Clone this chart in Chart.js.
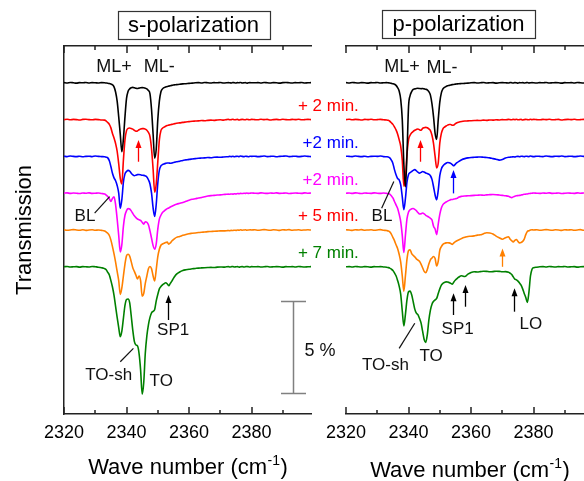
<!DOCTYPE html>
<html>
<head>
<meta charset="utf-8">
<script src="https://cdn.jsdelivr.net/npm/chart.js@4.4.0/dist/chart.umd.min.js"></script>
<style>
  html, body { margin: 0; padding: 0; background: #fff; overflow: hidden; }
  #wrap { position: relative; width: 584px; height: 481px; overflow: hidden; }
  #chartS { position: absolute; left: 0; top: 0; }
  #chartP { position: absolute; left: 300px; top: 0; }
</style>
</head>
<body>
<div id="wrap">
  <canvas id="chartS" width="372" height="481"></canvas>
  <canvas id="chartP" width="300" height="481"></canvas>
</div>
<script>
// wavenumber grid (cm-1), finer around the CO2 bands
const wavenumber = [
  2320, 2321, 2322, 2323, 2324, 2325, 2326, 2327, 2328, 2329, 2330, 2331, 2332, 2333,
  2333.5, 2334, 2334.5, 2335, 2335.5, 2336, 2336.5, 2337, 2337.5, 2338, 2338.5, 2339, 2339.5, 2340,
  2340.5, 2341, 2341.5, 2342, 2342.5, 2343, 2343.5, 2344, 2344.5, 2345, 2345.5, 2346, 2346.5, 2347,
  2347.5, 2348, 2348.5, 2349, 2349.5, 2350, 2350.5, 2351, 2351.5, 2352, 2352.5, 2353, 2353.5, 2354,
  2354.5, 2355, 2355.5, 2356,
  2357, 2358, 2359, 2360, 2361, 2362, 2363, 2364, 2365, 2366, 2367, 2368, 2369, 2370, 2371, 2372,
  2372.5, 2373, 2373.5, 2374, 2374.5, 2375, 2375.5, 2376, 2376.5, 2377, 2377.5, 2378, 2378.5, 2379, 2379.5, 2380,
  2381, 2382, 2383, 2384, 2385, 2386, 2387, 2388, 2389, 2390, 2391, 2392, 2393, 2394, 2395, 2396, 2397, 2398, 2399
];

// change of transmission (%) relative to each trace's own baseline
// s-polarization
const sBlack = [
  0.01, -0.01, 0.02, 0, -0.02, 0.01, 0, 0.02, -0.01, 0.01, 0, -0.01, 0.01, 0,
  -0.01, -0.02, -0.04, -0.07, -0.11, -0.22, -0.5, -1.0, -1.85, -2.8, -3.75, -3.05, -1.85, -0.85, -0.46, -0.33,
  -0.27, -0.25, -0.27, -0.3, -0.31, -0.29, -0.27, -0.26, -0.27, -0.29, -0.33, -0.42, -0.6, -1.45, -2.8, -4.1,
  -3.6, -2.0, -1.0, -0.49, -0.33, -0.26, -0.23, -0.2, -0.18, -0.16, -0.14, -0.12, -0.11, -0.1,
  -0.08, -0.06, -0.05, -0.03, -0.02, 0, 0.01, -0.01, 0.02, 0, -0.01, 0.01, 0, 0.02, -0.01, 0,
  0.01, 0, -0.01, 0.02, 0, -0.01, 0.01, 0, 0.02, -0.01, 0, 0.01, -0.02, 0, 0.01, 0,
  0, 0.01, -0.01, 0.02, 0, -0.01, 0.01, 0, -0.02, 0.01, 0.02, 0, -0.01, 0.01, 0, 0.02, -0.01, 0, 0.01
];
const sRed = [
  0, 0.02, -0.01, 0.01, 0, -0.02, 0.01, 0.02, 0, -0.01, 0.01, 0, -0.02, -0.03,
  -0.08, -0.16, -0.26, -0.45, -0.75, -1.0, -1.3, -1.72, -2.4, -3.2, -3.5, -2.2, -1.1, -0.6, -0.48, -0.46,
  -0.49, -0.52, -0.58, -0.63, -0.62, -0.55, -0.51, -0.49, -0.49, -0.52, -0.58, -0.7, -0.92, -1.6, -2.7, -3.95,
  -3.5, -2.3, -1.1, -0.6, -0.47, -0.41, -0.36, -0.32, -0.3, -0.28, -0.26, -0.24, -0.22, -0.2,
  -0.18, -0.15, -0.13, -0.11, -0.09, -0.08, -0.07, -0.05, -0.06, -0.04, -0.03, -0.04, -0.02, -0.01, -0.03, 0,
  0.01, -0.01, 0, 0.02, -0.01, 0, 0.01, -0.02, 0, 0.01, 0, -0.01, 0.02, 0, -0.01, 0.01,
  0, -0.01, 0.02, 0, 0.01, -0.02, 0, 0.01, -0.01, 0.02, 0, -0.01, 0.01, 0, 0.02, -0.01, 0, 0.01, 0
];
const sBlue = [
  0.01, -0.01, 0.02, 0, -0.01, 0.01, -0.02, 0, 0.01, -0.01, 0.02, 0, -0.01, -0.02,
  -0.04, -0.08, -0.24, -0.55, -0.92, -1.17, -1.32, -1.58, -2.0, -2.82, -2.35, -1.4, -0.95, -0.82, -0.76, -0.8,
  -0.91, -1.0, -1.05, -1.02, -0.99, -0.98, -1.0, -1.02, -1.03, -1.06, -1.12, -1.27, -1.5, -2.0, -2.8, -3.26,
  -2.6, -1.45, -0.75, -0.52, -0.45, -0.41, -0.38, -0.36, -0.36, -0.37, -0.36, -0.33, -0.31, -0.29,
  -0.26, -0.22, -0.19, -0.16, -0.14, -0.12, -0.1, -0.09, -0.08, -0.06, -0.07, -0.05, -0.04, -0.05, -0.03, -0.02,
  -0.02, 0, -0.01, 0.01, -0.02, 0, 0.01, -0.01, 0.02, 0, -0.01, 0.01, 0, -0.02, 0.01, 0,
  0.01, -0.01, 0, 0.02, -0.01, 0, 0.01, -0.02, 0, 0.01, 0.02, -0.01, 0, 0.01, -0.01, 0, 0.02, 0, -0.01
];
const sMagenta = [
  0, 0.02, -0.01, 0.01, 0, -0.02, 0.01, 0, 0.02, -0.01, 0, 0.01, -0.02, -0.04,
  -0.1, -0.18, -0.3, -0.45, -0.28, -0.2, -0.62, -1.4, -2.3, -3.19, -2.8, -1.8, -1.2, -0.95, -0.84, -0.86,
  -0.96, -1.1, -1.23, -1.33, -1.4, -1.44, -1.48, -1.58, -1.68, -1.55, -1.58, -1.72, -2.05, -2.45, -2.85, -3.04,
  -2.75, -1.95, -1.41, -1.2, -1.05, -0.97, -0.9, -0.84, -0.8, -0.75, -0.71, -0.67, -0.63, -0.6,
  -0.55, -0.5, -0.44, -0.38, -0.33, -0.3, -0.26, -0.23, -0.19, -0.15, -0.13, -0.12, -0.1, -0.09, -0.07, -0.06,
  -0.05, -0.06, -0.04, -0.05, -0.03, -0.04, -0.02, -0.03, -0.01, -0.02, 0, -0.01, 0.01, -0.01, 0, 0.01,
  0, -0.01, 0.02, 0, -0.01, 0.01, 0, 0.02, -0.01, 0, 0.01, -0.02, 0, 0.01, 0, -0.01, 0.02, 0, 0.01
];
const sOrange = [
  0.01, -0.01, 0, 0.02, 0, -0.01, 0.01, -0.02, 0, 0.01, -0.01, 0, -0.02, -0.05,
  -0.11, -0.18, -0.3, -0.55, -0.9, -1.3, -1.75, -2.25, -2.75, -3.5, -3.15, -2.5, -1.85, -1.4, -1.32, -1.42,
  -1.72, -2.05, -2.25, -2.45, -2.66, -2.5, -2.75, -3.6, -3.45, -2.9, -2.5, -2.1, -1.98, -2.1, -2.5, -2.77,
  -2.15, -1.45, -1.05, -0.83, -0.76, -0.72, -0.68, -0.66, -0.77, -0.7, -0.6, -0.52, -0.45, -0.4,
  -0.35, -0.29, -0.24, -0.2, -0.18, -0.16, -0.14, -0.12, -0.11, -0.09, -0.08, -0.07, -0.06, -0.05, -0.05, -0.04,
  -0.03, -0.04, -0.02, -0.03, -0.01, -0.02, 0, -0.01, 0.01, -0.01, 0, 0.01, -0.01, 0, 0.01, 0,
  0.01, -0.01, 0, 0.02, 0, -0.01, 0.01, 0, -0.02, 0.01, 0, 0.02, -0.01, 0, 0.01, -0.01, 0, 0.01, 0
];
const sGreen = [
  0, 0.02, -0.01, 0, 0.01, -0.02, 0.01, 0, -0.01, 0.02, 0, -0.02, -0.05, -0.1,
  -0.16, -0.3, -0.45, -0.75, -1.1, -1.55, -2.15, -2.75, -3.3, -3.8, -3.5, -2.8, -2.1, -1.78, -1.75, -1.95,
  -2.66, -3.45, -4.05, -4.25, -4.3, -4.7, -5.6, -6.92, -6.3, -4.7, -3.75, -3.15, -2.75, -2.5, -2.42, -2.32,
  -1.85, -1.5, -1.2, -1.07, -0.98, -0.92, -0.87, -0.92, -1.03, -0.9, -0.78, -0.63, -0.5, -0.4,
  -0.28, -0.2, -0.16, -0.13, -0.11, -0.09, -0.07, -0.06, -0.05, -0.04, -0.03, -0.04, -0.02, -0.01, -0.02, 0,
  0.01, -0.01, 0, 0.02, -0.01, 0, 0.01, -0.02, 0, 0.01, -0.01, 0, 0.02, 0, -0.01, 0.01,
  0, 0.01, -0.01, 0, 0.02, -0.01, 0, 0.01, 0, -0.02, 0.01, 0, 0.01, -0.01, 0.02, 0, -0.01, 0, 0.01
];

// p-polarization
const pBlack = [
  0.01, -0.01, 0.02, 0, -0.01, 0.01, 0, -0.02, 0.01, 0, 0.02, -0.01, 0, 0.01,
  0, -0.01, -0.03, -0.05, -0.08, -0.14, -0.26, -0.45, -0.9, -2.0, -4.4, -5.65, -3.9, -1.3, -0.7, -0.48,
  -0.36, -0.33, -0.31, -0.3, -0.31, -0.32, -0.31, -0.33, -0.35, -0.38, -0.48, -0.67, -1.15, -1.85, -2.75, -3.08,
  -2.0, -1.05, -0.55, -0.33, -0.25, -0.2, -0.16, -0.14, -0.12, -0.1, -0.09, -0.07, -0.06, -0.05,
  -0.04, -0.03, -0.02, 0, 0.01, -0.01, 0, 0.02, -0.01, 0, 0.01, -0.02, 0, 0.01, 0, -0.01,
  0.02, 0, -0.01, 0.01, 0, -0.02, 0.01, 0, 0.01, -0.01, 0, 0.02, -0.01, 0, 0.01, 0,
  -0.01, 0.01, 0, 0.02, -0.01, 0, 0.01, 0, -0.02, 0.01, 0, 0.01, -0.01, 0.02, 0, -0.01, 0, 0.01, 0
];
const pRed = [
  0, 0.02, -0.01, 0.01, 0, -0.02, 0.01, 0, 0.02, -0.01, 0, 0.01, -0.01, -0.02,
  -0.04, -0.09, -0.17, -0.26, -0.4, -0.56, -0.78, -1.09, -1.45, -2.2, -3.62, -3.2, -1.9, -1.1, -0.85, -0.72,
  -0.64, -0.58, -0.54, -0.51, -0.55, -0.58, -0.48, -0.44, -0.42, -0.44, -0.5, -0.6, -0.85, -1.3, -2.0, -2.63,
  -2.36, -1.27, -0.75, -0.5, -0.41, -0.35, -0.3, -0.27, -0.27, -0.31, -0.3, -0.22, -0.17, -0.14,
  -0.1, -0.08, -0.07, -0.06, -0.05, -0.04, -0.05, -0.03, -0.04, -0.02, -0.03, -0.01, -0.02, 0, -0.01, 0.01,
  0, -0.01, 0.01, 0, 0.02, -0.01, 0, 0.01, -0.02, 0, 0.01, 0, -0.01, 0.02, 0, 0.01,
  0, -0.01, 0.01, 0, 0.02, -0.01, 0, 0.01, -0.02, 0, 0.01, 0, 0.02, -0.01, 0, 0.01, 0, -0.01, 0.01
];
const pBlue = [
  0.01, 0, -0.01, 0.02, 0, -0.01, 0.01, -0.02, 0, 0.01, 0, 0.02, -0.01, -0.02,
  -0.03, -0.08, -0.2, -0.38, -0.72, -1.0, -1.2, -1.27, -1.55, -2.2, -2.9, -2.3, -1.4, -0.98, -0.88, -0.82,
  -0.76, -0.72, -0.78, -0.86, -0.91, -0.87, -0.82, -0.85, -0.9, -0.93, -0.97, -1.05, -1.25, -1.65, -2.1, -2.36,
  -1.85, -1.05, -0.68, -0.52, -0.43, -0.37, -0.33, -0.34, -0.38, -0.45, -0.51, -0.42, -0.34, -0.28,
  -0.18, -0.12, -0.08, -0.06, -0.05, -0.04, -0.03, -0.05, -0.06, -0.08, -0.12, -0.15, -0.2, -0.17, -0.09, -0.05,
  -0.04, -0.03, -0.02, -0.03, -0.01, 0, -0.02, 0.01, 0, -0.01, 0.01, 0, -0.01, 0.02, 0, -0.01,
  0.01, 0, -0.01, 0.02, 0, -0.01, 0.01, 0, 0.02, -0.01, 0, 0.01, -0.01, 0, 0.02, 0, -0.01, 0.01, 0
];
const pMagenta = [
  0, 0.01, -0.01, 0.02, 0, -0.02, 0.01, 0, -0.01, 0.02, 0, -0.01, 0.01, -0.01,
  -0.02, -0.05, -0.14, -0.26, -0.45, -0.63, -0.82, -1.14, -1.55, -2.3, -3.22, -2.3, -1.4, -1.02, -0.9, -0.85,
  -0.83, -0.88, -0.95, -1.05, -1.13, -1.12, -1.08, -1.12, -1.2, -1.25, -1.3, -1.36, -1.46, -1.8, -1.95, -2.25,
  -1.68, -1.15, -0.8, -0.62, -0.54, -0.48, -0.43, -0.39, -0.35, -0.34, -0.32, -0.3, -0.28, -0.22,
  -0.17, -0.15, -0.14, -0.13, -0.12, -0.11, -0.1, -0.11, -0.09, -0.08, -0.07, -0.08, -0.1, -0.12, -0.14, -0.17,
  -0.21, -0.24, -0.2, -0.16, -0.14, -0.13, -0.12, -0.1, -0.08, -0.06, -0.05, -0.04, -0.02, -0.01, 0, 0.01,
  0, -0.01, 0.01, 0, 0.02, -0.01, 0, 0.01, -0.02, 0, 0.01, 0, -0.01, 0.02, 0, 0.01, -0.01, 0, 0.01
];
const pOrange = [
  0.01, 0, -0.02, 0.01, 0, 0.02, -0.01, 0, 0.01, -0.01, 0, 0.02, -0.01, -0.03,
  -0.05, -0.1, -0.22, -0.4, -0.58, -0.8, -1.0, -1.32, -1.75, -2.5, -3.32, -2.5, -1.6, -1.12, -1.07, -1.28,
  -1.38, -1.46, -1.57, -1.63, -1.7, -1.85, -2.05, -2.25, -2.32, -2.15, -1.85, -1.62, -1.52, -1.44, -1.55, -1.96,
  -1.7, -1.1, -0.9, -0.78, -0.73, -0.7, -0.69, -0.7, -0.73, -0.78, -0.7, -0.63, -0.58, -0.54,
  -0.46, -0.4, -0.35, -0.34, -0.32, -0.28, -0.26, -0.2, -0.15, -0.16, -0.22, -0.33, -0.42, -0.5, -0.42, -0.37,
  -0.5, -0.58, -0.65, -0.56, -0.52, -0.62, -0.7, -0.68, -0.62, -0.5, -0.25, -0.08, -0.04, 0, 0.01, 0,
  0.01, -0.01, 0, 0.02, 0, -0.01, 0.01, 0, -0.02, 0.01, 0, 0.01, -0.01, 0, 0.02, -0.01, 0, 0.01, 0
];
const pGreen = [
  0, 0.01, -0.01, 0.02, 0, -0.01, 0.01, 0, -0.02, 0.01, 0, 0.01, -0.01, -0.02,
  -0.04, -0.07, -0.13, -0.2, -0.33, -0.49, -0.74, -1.05, -1.5, -2.4, -3.21, -2.6, -1.8, -1.36, -1.32, -1.52,
  -1.9, -2.3, -2.52, -2.6, -2.8, -3.05, -3.5, -3.95, -4.11, -3.7, -2.9, -2.35, -2.03, -1.88, -1.8, -1.72,
  -1.45, -1.2, -1.0, -0.9, -0.85, -0.82, -0.83, -0.85, -0.9, -0.94, -0.82, -0.72, -0.64, -0.57,
  -0.49, -0.53, -0.4, -0.31, -0.27, -0.28, -0.26, -0.24, -0.25, -0.27, -0.26, -0.24, -0.25, -0.27, -0.26, -0.3,
  -0.35, -0.42, -0.55, -0.67, -0.71, -0.78, -0.88, -1.0, -1.2, -1.45, -1.67, -1.94, -1.39, -0.5, -0.13, -0.05,
  -0.02, 0, 0.01, -0.01, 0.02, 0, -0.01, 0.01, 0, 0.02, -0.01, 0, 0.01, -0.02, 0, 0.01, 0, -0.01, 0.01
];

// vertical stacking of the traces (%), top to bottom
const offsets = [18, 16, 14, 12, 10, 8];
const lineColors = ['#000000', '#ff0000', '#0000ff', '#ff00ff', '#ff8000', '#008000'];
const timeLabels = ['+ 2 min.', '+2 min.', '+2 min.', '+ 5 min.', '+ 7 min.'];
const timeLabelColors = ['#ff0000', '#0000ff', '#ff00ff', '#ff0000', '#008000'];
const tickValues = [2320, 2340, 2360, 2380];
const minorTickValues = [2330, 2350, 2370, 2390];

const FONT = "'Liberation Sans', Arial, sans-serif";
const frameColor = '#222';
const xMin = 2320, xMax = 2399;

function spectra(list) {
  return list.map((vals, k) => ({
    data: wavenumber.map((w, i) => ({ x: w, y: offsets[k] + vals[i] })),
    borderColor: lineColors[k],
    borderWidth: 1.6,
    pointRadius: 0,
    cubicInterpolationMode: 'monotone'
  }));
}

function arrow(ctx, x, yTail, yTip, color) {
  ctx.strokeStyle = color;
  ctx.fillStyle = color;
  ctx.lineWidth = 1.3;
  ctx.beginPath();
  ctx.moveTo(x, yTail);
  ctx.lineTo(x, yTip + 6);
  ctx.stroke();
  ctx.beginPath();
  ctx.moveTo(x, yTip);
  ctx.lineTo(x - 3, yTip + 8);
  ctx.lineTo(x + 3, yTip + 8);
  ctx.closePath();
  ctx.fill();
}

// frame ticks, labels, arrows and the boxed panel title
function notesPlugin(notes) {
  return {
    id: 'notes',
    afterDraw(chart) {
      const { ctx, chartArea: a } = chart;
      const x = chart.scales.x, y = chart.scales.y;
      const px = v => x.getPixelForValue(v);
      const py = v => y.getPixelForValue(v);
      ctx.save();

      // inward ticks, top and bottom
      ctx.strokeStyle = frameColor;
      ctx.lineWidth = 1.5;
      const marks = tickValues.map(v => [v, 7]).concat(minorTickValues.map(v => [v, 4]));
      marks.forEach(([v, len]) => {
        const p = Math.round(px(v));
        ctx.beginPath();
        ctx.moveTo(p, a.bottom);
        ctx.lineTo(p, a.bottom - len);
        ctx.moveTo(p, a.top);
        ctx.lineTo(p, a.top + len);
        ctx.stroke();
      });

      // panel title in a box
      ctx.font = '22px ' + FONT;
      const tw = ctx.measureText(notes.title).width;
      ctx.lineWidth = 1.2;
      ctx.strokeStyle = '#333';
      ctx.strokeRect(Math.round(notes.titleX - tw / 2 - 10.5) + 0.5, notes.titleY - 14 + 0.5, Math.round(tw + 21), 28);
      ctx.fillStyle = '#000';
      ctx.textAlign = 'center';
      ctx.textBaseline = 'middle';
      ctx.fillText(notes.title, notes.titleX, notes.titleY + 1);

      // x axis title with superscript
      const main = 'Wave number (cm', sup = '-1', close = ')';
      ctx.font = '22px ' + FONT;
      const w1 = ctx.measureText(main).width, w3 = ctx.measureText(close).width;
      ctx.font = '14px ' + FONT;
      const w2 = ctx.measureText(sup).width;
      let sx = (a.left + a.right) / 2 - (w1 + w2 + w3) / 2;
      ctx.textAlign = 'left';
      ctx.textBaseline = 'alphabetic';
      ctx.font = '22px ' + FONT;
      ctx.fillText(main, sx, notes.xTitleBase);
      ctx.font = '14px ' + FONT;
      ctx.fillText(sup, sx + w1 + 0.5, notes.xTitleBase - 9);
      ctx.font = '22px ' + FONT;
      ctx.fillText(close, sx + w1 + w2 + 1, notes.xTitleBase);

      // band labels
      ctx.textAlign = 'center';
      ctx.textBaseline = 'middle';
      notes.texts.forEach(t => {
        ctx.font = (t.size || 17) + 'px ' + FONT;
        ctx.fillStyle = '#111';
        ctx.fillText(t.t, px(t.x), py(t.y));
      });

      // leader lines
      ctx.strokeStyle = '#111';
      ctx.lineWidth = 1.2;
      notes.leaders.forEach(([x0, y0, x1, y1]) => {
        ctx.beginPath();
        ctx.moveTo(px(x0), py(y0));
        ctx.lineTo(px(x1), py(y1));
        ctx.stroke();
      });

      notes.arrows.forEach(r => arrow(ctx, Math.round(px(r.x)) + 0.5, py(r.from), py(r.to), r.color));

      // time stamps next to the traces
      if (notes.times) {
        ctx.font = '17px ' + FONT;
        ctx.textAlign = 'right';
        timeLabels.forEach((t, k) => {
          ctx.fillStyle = timeLabelColors[k];
          ctx.fillText(t, px(2414.3), py(offsets[k + 1] + 0.72));
        });
      }

      // 5 % scale bar
      if (notes.scaleBar) {
        const bx = Math.round(px(notes.scaleBar.x)) + 0.5;
        const y0 = Math.round(py(notes.scaleBar.from)) + 0.5;
        const y1 = Math.round(py(notes.scaleBar.from + 5)) + 0.5;
        ctx.strokeStyle = '#808080';
        ctx.lineWidth = 1.5;
        ctx.beginPath();
        ctx.moveTo(bx, y0); ctx.lineTo(bx, y1);
        ctx.moveTo(bx - 12.5, y0); ctx.lineTo(bx + 12.5, y0);
        ctx.moveTo(bx - 12.5, y1); ctx.lineTo(bx + 12.5, y1);
        ctx.stroke();
        ctx.font = '18px ' + FONT;
        ctx.fillStyle = '#111';
        ctx.textAlign = 'left';
        ctx.fillText('5 %', bx + 11, py(notes.scaleBar.from + 2.3));
      }
      ctx.restore();
    }
  };
}

function scalesFor(showY) {
  const y = {
    type: 'linear', min: 0, max: 20, display: showY,
    grid: { display: false, drawTicks: false },
    border: { display: true, color: frameColor, width: 1.5 },
    ticks: { display: false },
    title: { display: true, text: 'Transmission', color: '#000', font: { family: FONT, size: 22 }, padding: { top: 12 } }
  };
  if (showY) y.afterFit = s => { s.width = 64; };
  return {
    x: {
      type: 'linear', position: 'bottom', min: xMin, max: xMax,
      afterBuildTicks: s => { s.ticks = tickValues.map(v => ({ value: v })); },
      afterFit: s => { s.height = 67; },
      grid: { display: false, drawTicks: false },
      border: { display: true, color: frameColor, width: 1.5 },
      ticks: { color: '#000', font: { family: FONT, size: 18 }, padding: 8, maxRotation: 0, autoSkip: false, callback: v => String(v) }
    },
    xTop: {
      type: 'linear', position: 'top', min: xMin, max: xMax,
      afterFit: s => { s.height = 0; },
      grid: { display: false, drawTicks: false },
      border: { display: true, color: frameColor, width: 1.5 },
      ticks: { display: false }
    },
    y: y
  };
}

const common = {
  responsive: false,
  animation: false,
  plugins: { legend: { display: false }, tooltip: { enabled: false } }
};

new Chart(document.getElementById('chartS'), {
  type: 'line',
  data: { datasets: spectra([sBlack, sRed, sBlue, sMagenta, sOrange, sGreen]) },
  options: Object.assign({}, common, {
    layout: { padding: { top: 46, right: 61, left: 0, bottom: 0 } },
    scales: scalesFor(true)
  }),
  plugins: [notesPlugin({
    title: 's-polarization', titleX: 193.5, titleY: 25, xTitleBase: 474,
    texts: [
      { t: 'ML+', x: 2336.0, y: 18.86, size: 18 },
      { t: 'ML-', x: 2350.5, y: 18.86, size: 18 },
      { t: 'BL', x: 2326.7, y: 10.72 },
      { t: 'SP1', x: 2354.9, y: 4.54 },
      { t: 'TO-sh', x: 2334.3, y: 2.12 },
      { t: 'TO', x: 2351.1, y: 1.76 }
    ],
    leaders: [[2329.8, 10.92, 2334.6, 11.81], [2338.0, 2.84, 2342.2, 3.57]],
    arrows: [
      { x: 2343.8, from: 13.71, to: 14.89, color: '#ff0000' },
      { x: 2353.4, from: 5.11, to: 6.47, color: '#000' }
    ],
    times: true,
    scaleBar: { x: 2393.3, from: 1.125 }
  })]
});

new Chart(document.getElementById('chartP'), {
  type: 'line',
  data: { datasets: spectra([pBlack, pRed, pBlue, pMagenta, pOrange, pGreen]) },
  options: Object.assign({}, common, {
    layout: { padding: { top: 46, right: 7, left: 46, bottom: 0 } },
    scales: scalesFor(false)
  }),
  plugins: [notesPlugin({
    title: 'p-polarization', titleX: 158.5, titleY: 24, xTitleBase: 477,
    texts: [
      { t: 'ML+', x: 2337.9, y: 18.86, size: 18 },
      { t: 'ML-', x: 2350.7, y: 18.8, size: 18 },
      { t: 'BL', x: 2331.5, y: 10.72 },
      { t: 'SP1', x: 2355.7, y: 4.6 },
      { t: 'LO', x: 2379.1, y: 4.88 },
      { t: 'TO-sh', x: 2332.6, y: 2.66 },
      { t: 'TO', x: 2347.2, y: 3.11 }
    ],
    leaders: [[2331.4, 11.18, 2335.3, 12.63], [2337.0, 3.57, 2342.0, 4.93]],
    arrows: [
      { x: 2343.6, from: 13.71, to: 14.89, color: '#ff0000' },
      { x: 2354.3, from: 11.99, to: 13.26, color: '#0000ff' },
      { x: 2369.9, from: 8.0, to: 9.0, color: '#ff8000' },
      { x: 2354.3, from: 5.38, to: 6.56, color: '#000' },
      { x: 2358.1, from: 5.83, to: 7.01, color: '#000' },
      { x: 2373.8, from: 5.56, to: 6.83, color: '#000' }
    ]
  })]
});
</script>
</body>
</html>
